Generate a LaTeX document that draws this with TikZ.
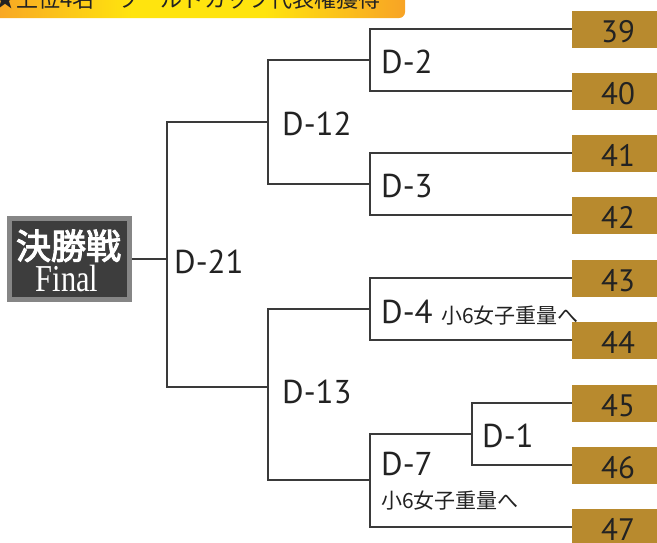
\documentclass[tikz,border=0pt]{standalone}
\usepackage{fontspec}
\setmainfont{PT Sans}
\newfontfamily\jp{Noto Sans CJK JP}
\newfontfamily\jpb{Noto Sans CJK JP}[FakeBold=3]
\newfontfamily\lserif{Liberation Serif}
\definecolor{linec}{HTML}{3A3A3A}
\definecolor{gold}{HTML}{B88A2E}
\definecolor{txt}{HTML}{222222}
\definecolor{bannerO}{HTML}{F5892F}
\definecolor{bannerY}{HTML}{FFE40E}
\pgfdeclarehorizontalshading{bannershade}{100bp}{color(0bp)=(bannerO); color(18bp)=(bannerO); color(42bp)=(bannerY); color(58bp)=(bannerY); color(82bp)=(bannerO); color(100bp)=(bannerO)}
\tikzset{
  conn/.style={draw=linec, line width=1.2pt},
  numbox/.style={fill=gold, minimum width=92pt, minimum height=37pt, inner sep=0pt,
    text height=27pt, text depth=0pt, text=txt, font=\fontsize{31}{31}\selectfont},
  dlab/.style={anchor=base west, inner sep=0pt, text=txt, font=\fontsize{33}{33}\selectfont},
  note/.style={anchor=base west, inner sep=0pt, text=txt, font=\jp\fontsize{21}{21}\selectfont},
  finalbox/.style={draw=gray!95!white, line width=5pt, fill=black!76, minimum width=120pt, minimum height=81pt, inner sep=0pt},
}
\begin{document}
\begin{tikzpicture}[x=1pt,y=-1pt]
\useasboundingbox (0,0) rectangle (657,542);
\fill[white] (0,0) rectangle (657,542);
% banner
\shade[shading=bannershade, rounded corners=6pt]
  (-10,-10) -- (405,-10) -- (405,18) -- (-10,18) -- cycle;
\node[anchor=base west, inner sep=0pt, text=txt, font=\jp\fontsize{22}{22}\selectfont] (banner) at (-6,7) {★上位4名　ワールドカップ代表権獲得};
% number boxes
\foreach \n/\y in {39/29,40/91,41/153,42/215,43/278,44/340,45/403,46/465,47/527}{
  \node[numbox] (b\n) at (618,\y) {\n};
}
% junctions
\coordinate (m2) at (370,60);
\coordinate (m3) at (370,184);
\coordinate (m12) at (268,122);
\coordinate (m4) at (370,309);
\coordinate (m1) at (472,434);
\coordinate (m7) at (370,480);
\coordinate (m13) at (268,387);
\coordinate (m21) at (167,259);
% final box
\node[finalbox] (final) at (69.5,259) {};
\node[anchor=base, inner sep=0pt, text=white, font=\jpb\fontsize{35}{35}\selectfont] (finaljp) at (68.5,259) {決勝戦};
\node[anchor=base, inner sep=0pt, text=white, font=\lserif\fontsize{38}{38}\selectfont] (finalen) at (67,291) {\scalebox{0.8}[1]{Final}};
% connectors
\draw[conn] (b39.west) -| (m2) |- (b40.west);
\draw[conn] (b41.west) -| (m3) |- (b42.west);
\draw[conn] (m2) -| (m12) |- (m3);
\draw[conn] (b43.west) -| (m4) |- (b44.west);
\draw[conn] (b45.west) -| (m1) |- (b46.west);
\draw[conn] (m1) -| (m7) |- (b47.west);
\draw[conn] (m4) -| (m13) |- (m7);
\draw[conn] (m12) -| (m21) |- (m13);
\draw[conn] (final.east) -- (m21);
% labels
\node[dlab] (l2) at (381,73) {D-2};
\node[dlab] (l12) at (282,135) {D-12};
\node[dlab] (l3) at (381,197) {D-3};
\node[dlab] (l21) at (174,273) {D-21};
\node[dlab] (l13) at (282,403) {D-13};
\node[dlab] (l4) at (381,323) {D-4};
\node[dlab] (l1) at (482,447) {D-1};
\node[dlab] (l7) at (381,475) {D-7};
\node[note] (n4) at (441,323) {小6女子重量へ};
\node[note] (n7) at (381,508) {小6女子重量へ};
\end{tikzpicture}
\end{document}
